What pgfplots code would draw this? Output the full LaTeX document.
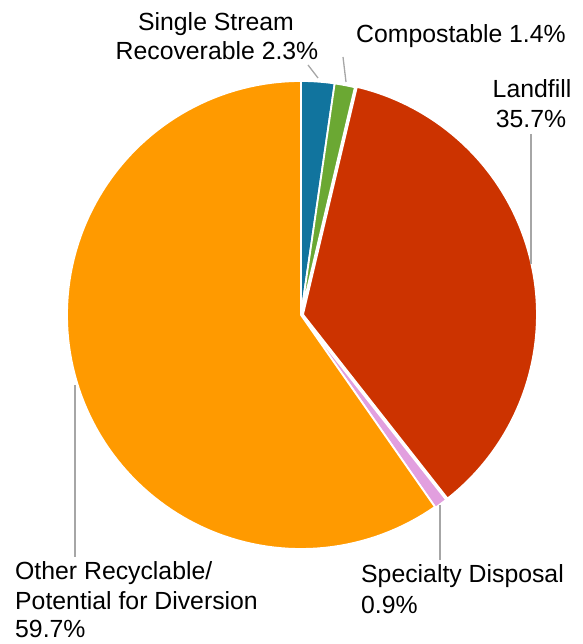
\documentclass[border=0pt]{standalone}
\usepackage{pgfplots}
\pgfplotsset{compat=1.18}
\usepackage{fontspec}
\setmainfont{Liberation Sans}
\definecolor{cSS}{HTML}{11749E}
\definecolor{cCo}{HTML}{6BA833}
\definecolor{cLa}{HTML}{CC3300}
\definecolor{cSp}{HTML}{E29FDF}
\definecolor{cOt}{HTML}{FF9A00}
\definecolor{lead}{HTML}{A6A6A6}
% slice: colour, start %, end %, explode (pt)
\newcommand{\slice}[4]{%
  \addplot[fill=#1, draw=white, line width=1.8pt, domain={90-3.6*#3}:{90-3.6*#2}, samples=120, variable=\t]
   ({301+#4*cos(90-1.8*(#2+#3))+234*cos(\t)}, {329+#4*sin(90-1.8*(#2+#3))+234*sin(\t)})
   -- (axis cs:{301+#4*cos(90-1.8*(#2+#3))},{329+#4*sin(90-1.8*(#2+#3))}) -- cycle;
}
\begin{document}
\begin{tikzpicture}
\begin{axis}[scale only axis, width=582pt, height=644pt,
  xmin=0, xmax=582, ymin=0, ymax=644, hide axis, clip=false]
% Single Stream Recoverable 2.3, Compostable 1.4, Landfill 35.7, Specialty Disposal 0.9, Other 59.7
\slice{cSS}{0}{2.3}{0}
\slice{cCo}{2.3}{3.7}{0}
\slice{cLa}{3.7}{39.4}{2}
\slice{cSp}{39.4}{40.3}{1}
\slice{cOt}{40.3}{100}{0}
% leader lines
\addplot[lead, line width=1.3pt] coordinates {(308,579) (318,566)};
\addplot[lead, line width=1.3pt] coordinates {(343,587) (346,562)};
\addplot[lead, line width=1.3pt] coordinates {(531,510) (531,380)};
\addplot[lead, line width=1.3pt] coordinates {(440,139) (440,84)};
\addplot[lead, line width=1.3pt] coordinates {(75,259) (75,87)};
% labels
\begin{scope}[every node/.style={inner sep=0pt, font=\fontsize{24.8}{29}\selectfont}]
\node[anchor=base] at (axis cs:216,613) {Single Stream};
\node[anchor=base] at (axis cs:217,584) {Recoverable 2.3\%};
\node[anchor=base] at (axis cs:461,601) {Compostable 1.4\%};
\node[anchor=base] at (axis cs:532,546) {Landfill};
\node[anchor=base] at (axis cs:531,516) {35.7\%};
\node[anchor=base west] at (axis cs:361,61) {Specialty Disposal};
\node[anchor=base west] at (axis cs:361,30) {0.9\%};
\node[anchor=base west] at (axis cs:15,64) {Other Recyclable/};
\node[anchor=base west] at (axis cs:15,34) {Potential for Diversion};
\node[anchor=base west] at (axis cs:15,6) {59.7\%};
\end{scope}
\end{axis}
\pgfresetboundingbox
\path (current axis.south west) rectangle (current axis.north east);
\end{tikzpicture}
\end{document}
